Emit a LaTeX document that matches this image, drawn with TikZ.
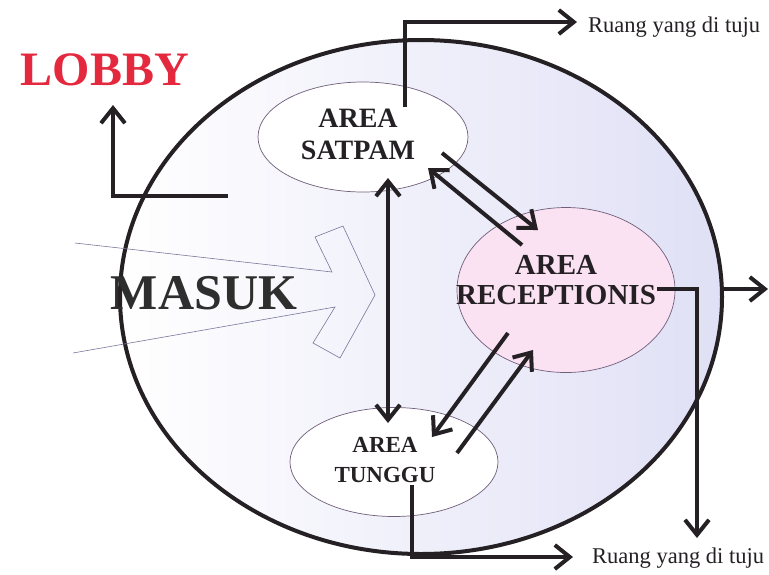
\documentclass[tikz,border=0pt]{standalone}
\usepackage{fontspec}
\setmainfont{Liberation Serif}
\usetikzlibrary{shapes.geometric,arrows.meta}
\definecolor{lavender}{RGB}{224,224,246}
\definecolor{pinkarea}{RGB}{250,226,243}
\definecolor{lobbyred}{RGB}{228,40,62}
\definecolor{ink}{RGB}{36,32,36}
\definecolor{rim}{RGB}{112,94,122}
\definecolor{masukline}{RGB}{120,120,155}

\begin{document}
\begin{tikzpicture}[x=1pt,y=-1pt,
    area/.style={ellipse,draw=rim,line width=0.7pt,inner sep=0pt},
    areatext/.style={text=ink,align=center,inner sep=0pt},
    goaltext/.style={font=\fontsize{22.5}{26}\selectfont,text=ink,inner sep=0pt},
    flow/.style={draw=ink,line width=4pt,-{Straight Barb[length=15pt,width=24pt]}}]
  \useasboundingbox (0,0) rectangle (769,574);

  % the lobby
  \draw[line width=4pt,draw=ink,left color=white,middle color=white!80!lavender,right color=lavender]
    (421,297) ellipse [x radius=301pt,y radius=257pt];

  % entrance
  \draw[masukline,line width=0.6pt] (75,243) -- (332,272) -- (315,237) -- (343,226)
    -- (375,295) -- (340,358) -- (313,343) -- (335,307) -- (73,353);
  \node[text=black!82,font=\bfseries\fontsize{50}{56}\selectfont,inner sep=0pt] (masuk) at (204,293) {MASUK};
  \node[text=lobbyred,font=\bfseries\fontsize{48}{54}\selectfont,inner sep=0pt] (lobby) at (105,70) {LOBBY};

  % areas
  \node[area,fill=white,minimum width=210pt,minimum height=110pt] (satpam) at (363,137) {};
  \node[area,fill=pinkarea,minimum width=218pt,minimum height=165pt] (recep) at (566,290) {};
  \node[area,fill=white,minimum width=208pt,minimum height=109pt] (tunggu) at (394,462) {};
  \node[areatext,font=\bfseries\fontsize{28}{32}\selectfont] (satpamtxt) at (358,134) {AREA\\SATPAM};
  \node[areatext,font=\bfseries\fontsize{29}{30}\selectfont] (receptxt) at (556,280) {AREA\\RECEPTIONIS};
  \node[areatext,font=\bfseries\fontsize{23}{30}\selectfont] (tunggutxt) at (385,460) {AREA\\TUNGGU};

  \node[goaltext,anchor=base west] (ruangA) at (588,32) {Ruang yang di tuju};
  \node[goaltext,anchor=base west] (ruangB) at (592,563) {Ruang yang di tuju};

  % end points
  \coordinate (lobbyFrom) at (228,196);
  \coordinate (lobbyTo) at (113,105);
  \coordinate (satOut) at (405,107);
  \coordinate (goalA) at (577,22);
  \coordinate (tungOut) at (412,485);
  \coordinate (goalB) at (573,557);
  \coordinate (recOut) at (657,289);
  \coordinate (goalC) at (697,538);
  \coordinate (exitFrom) at (723,289);
  \coordinate (exitTo) at (768,289);
  \coordinate (satDown) at (388,178);
  \coordinate (tungUp) at (388,423);
  \coordinate (satA) at (442,153);
  \coordinate (recA) at (538,230);
  \coordinate (recB) at (522,245);
  \coordinate (satB) at (428,168);
  \coordinate (recC) at (508,333);
  \coordinate (tungC) at (432,437);
  \coordinate (tungD) at (457,453);
  \coordinate (recD) at (533,350);

  % flows
  \draw[flow] (lobbyFrom) -| (lobbyTo);
  \draw[flow] (satOut) |- (goalA);
  \draw[flow] (tungOut) |- (goalB);
  \draw[flow] (recOut) -| (goalC);
  \draw[flow] (exitFrom) -- (exitTo);
  \draw[flow,{Straight Barb[length=15pt,width=24pt]}-{Straight Barb[length=15pt,width=24pt]}] (satDown) -- (tungUp);
  \draw[flow] (satA) -- (recA);
  \draw[flow] (recB) -- (satB);
  \draw[flow] (recC) -- (tungC);
  \draw[flow] (tungD) -- (recD);
\end{tikzpicture}
\end{document}
